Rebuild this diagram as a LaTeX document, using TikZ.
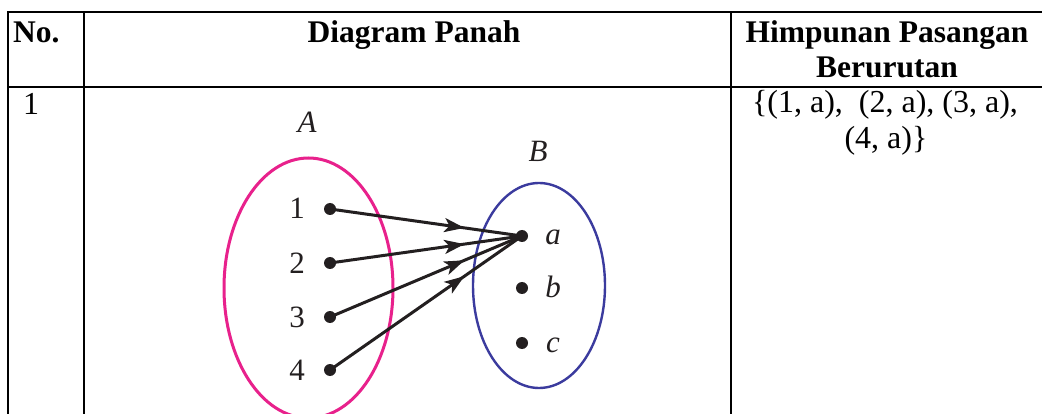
\documentclass[tikz,border=0pt]{standalone}
\usepackage{fontspec}
\setmainfont{Liberation Serif}
\usetikzlibrary{arrows.meta,decorations.markings}
\definecolor{pinkA}{HTML}{E8218C}
\definecolor{blueB}{HTML}{3B3B9E}
\definecolor{ink}{HTML}{231F20}
\tikzset{
  rule/.style={line width=2.8pt, line cap=rect},
  thinrule/.style={line width=1.2pt},
  hdr/.style={font=\fontsize{31.5}{35}\selectfont\bfseries, inner sep=0pt, align=center},
  body/.style={font=\fontsize{32}{35}\selectfont, inner sep=0pt, align=center},
  lbl/.style={font=\fontsize{31}{34}\selectfont, text=ink, inner sep=0pt},
  dot/.style={circle, fill=ink, inner sep=0pt, minimum size=12pt},
  maparrow/.style={draw=ink, line width=3pt, postaction={decorate},
    decoration={markings, mark=at position 0.7 with {\arrow{Stealth[length=20pt,width=14pt,inset=5pt]}}}}
}
\begin{document}
\begin{tikzpicture}[x=1pt,y=-1pt]
\useasboundingbox (0,0) rectangle (1042,414);
\clip (0,0) rectangle (1042,414);
\fill[white] (0,0) rectangle (1042,414);
% table rules
\draw[rule] (8,12) -- (1045,12);
\draw[rule] (8,12) -- (8,416);
\draw[rule] (84,12) -- (84,416);
\draw[rule] (731,12) -- (731,416);
\draw[rule] (8,87) -- (190,87);
\draw[thinrule] (190,87) -- (627,87);
\draw[rule] (627,87) -- (1045,87);
% header texts
\node[hdr, anchor=base west] (hno) at (13,43) {No.};
\node[hdr, anchor=base] (hdp) at (414,43) {Diagram Panah};
\node[hdr, anchor=base] (hhp) at (887,43) {Himpunan Pasangan};
\node[hdr, anchor=base] (hbr) at (887,78) {Berurutan};
% body texts
\node[body, anchor=base west] (n1) at (23,115) {1};
\node[body, anchor=base] (p1) at (885,113) {\{(1, a),\ \ (2, a), (3, a),};
\node[body, anchor=base] (p2) at (886,149) {(4, a)\}};
% diagram
\draw[pinkA, line width=3pt] (308.5,288) ellipse [x radius=84.5, y radius=130];
\draw[blueB, line width=2.4pt] (539,285.5) ellipse [x radius=66, y radius=102.5];
\node[lbl, anchor=base] (lA) at (307,133) {\itshape A};
\node[lbl, anchor=base] (lB) at (538,162) {\itshape B};
\node[dot] (d1) at (330,209) {};
\node[dot] (d2) at (330,263) {};
\node[dot] (d3) at (330,317) {};
\node[dot] (d4) at (330,370) {};
\node[lbl, anchor=base] (t1) at (297,219) {1};
\node[lbl, anchor=base] (t2) at (297,273) {2};
\node[lbl, anchor=base] (t3) at (297,327) {3};
\node[lbl, anchor=base] (t4) at (297,380) {4};
\node[dot] (da) at (522,236) {};
\node[dot] (db) at (522,288) {};
\node[dot] (dc) at (522,343) {};
\node[lbl, anchor=base] (ta) at (553,245) {\itshape a};
\node[lbl, anchor=base] (tb) at (553,298) {\itshape b};
\node[lbl, anchor=base] (tc) at (553,352) {\itshape c};
\draw[maparrow] (d1.center) -- (da.center);
\draw[maparrow] (d2.center) -- (da.center);
\draw[maparrow] (d3.center) -- (da.center);
\draw[maparrow] (d4.center) -- (da.center);
\end{tikzpicture}
\end{document}
